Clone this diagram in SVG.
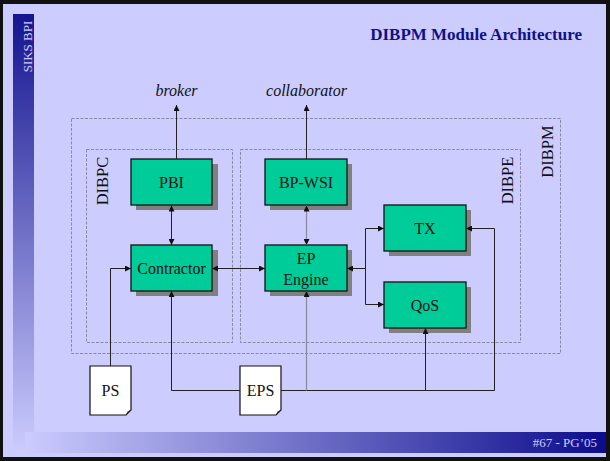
<svg xmlns="http://www.w3.org/2000/svg" width="610" height="461" viewBox="0 0 610 461">
<defs>
<linearGradient id="gSide" x1="0" y1="14" x2="0" y2="452" gradientUnits="userSpaceOnUse">
<stop offset="0" stop-color="#14148f"/>
<stop offset="1" stop-color="#ccccff"/>
</linearGradient>
<linearGradient id="gBottom" x1="25" y1="0" x2="606" y2="0" gradientUnits="userSpaceOnUse">
<stop offset="0" stop-color="#ccccff"/>
<stop offset="1" stop-color="#0c0c8c"/>
</linearGradient>
<marker id="ah" viewBox="0 0 10 10" refX="10" refY="5" markerWidth="6" markerHeight="6" markerUnits="userSpaceOnUse" orient="auto-start-reverse">
<path d="M0,0 L10,5 L0,10 Z" fill="#111"/>
</marker>
<style>
.box{fill:#00cc99;stroke:#111;stroke-width:1.3}
.shadow{fill:#808080}
.lbl{font-family:"Liberation Serif","Times New Roman",serif;font-size:16px;fill:#111;text-anchor:middle}
.grp{fill:none;stroke:#8a8aa0;stroke-width:1;stroke-dasharray:3,1.5}
.glbl{font-family:"Liberation Serif","Times New Roman",serif;font-size:16.5px;fill:#111;text-anchor:middle}
.ln{fill:none;stroke:#222;stroke-width:1}
.lng{fill:none;stroke:#8888a0;stroke-width:1.2}
.doc{fill:#fff;stroke:#111;stroke-width:1.2}
.ext{font-family:"Liberation Serif","Times New Roman",serif;font-size:16px;font-style:italic;fill:#111;text-anchor:middle}
</style>
</defs>
<rect x="0" y="0" width="610" height="461" fill="#111"/>
<rect x="3" y="4" width="603" height="453" fill="#ccccff"/>
<rect x="13" y="14" width="21" height="438" fill="url(#gSide)"/>
<text transform="translate(32,46.5) rotate(-90)" font-family="Liberation Serif,serif" font-size="13" fill="#ccccff" text-anchor="middle">SIKS BPI</text>
<rect x="25" y="432" width="581" height="21" fill="url(#gBottom)"/>
<text x="597" y="446.5" font-family="Liberation Serif,serif" font-size="13" fill="#ccccff" text-anchor="end">#67 - PG’05</text>
<text x="582" y="40" font-family="Liberation Serif,serif" font-size="17" font-weight="bold" fill="#10108a" text-anchor="end">DIBPM Module Architecture</text>

<g id="DIBPM">
<rect class="grp" x="71.5" y="118.5" width="489" height="235"/>
<text class="glbl" transform="translate(553,151.5) rotate(-90)">DIBPM</text>
</g>
<g id="DIBPC">
<rect class="grp" x="86.5" y="149.5" width="146" height="193"/>
<text class="glbl" transform="translate(108,181) rotate(-90)">DIBPC</text>
</g>
<g id="DIBPE">
<rect class="grp" x="240.5" y="149.5" width="280" height="193"/>
<text class="glbl" transform="translate(513,180.5) rotate(-90)">DIBPE</text>
</g>

<g id="broker"><text class="ext" x="176.5" y="96">broker</text></g>
<g id="collaborator"><text class="ext" x="306.5" y="96">collaborator</text></g>

<g id="PBI">
<rect class="shadow" x="136" y="164" width="82" height="46"/>
<rect class="box" x="131" y="159" width="81" height="46"/>
<text class="lbl" x="171.5" y="188">PBI</text>
</g>
<g id="Contractor">
<rect class="shadow" x="136" y="250" width="82" height="46"/>
<rect class="box" x="131" y="245" width="81" height="46"/>
<text class="lbl" x="171.5" y="274">Contractor</text>
</g>
<g id="BP-WSI">
<rect class="shadow" x="270" y="164" width="82" height="46"/>
<rect class="box" x="265" y="159" width="82" height="46"/>
<text class="lbl" x="306" y="188">BP-WSI</text>
</g>
<g id="EPEngine">
<rect class="shadow" x="270" y="250" width="82" height="46"/>
<rect class="box" x="265" y="245" width="82" height="46"/>
<text class="lbl" x="306" y="264">EP</text>
<text class="lbl" x="306" y="285">Engine</text>
</g>
<g id="TX">
<rect class="shadow" x="389" y="210" width="82" height="46"/>
<rect class="box" x="384" y="205" width="82" height="46"/>
<text class="lbl" x="425" y="234">TX</text>
</g>
<g id="QoS">
<rect class="shadow" x="389" y="287" width="82" height="46"/>
<rect class="box" x="384" y="282" width="82" height="46"/>
<text class="lbl" x="425" y="311">QoS</text>
</g>
<g id="PS">
<path class="doc" d="M90,366 H131 V410 L126,415 H90 Z"/>
<path d="M126,415 L127.5,411.5 L131,410 Z" fill="#333"/>
<text class="lbl" x="110.5" y="396">PS</text>
</g>
<g id="EPS">
<path class="doc" d="M240,366 H281 V410 L276,415 H240 Z"/>
<path d="M276,415 L277.5,411.5 L281,410 Z" fill="#333"/>
<text class="lbl" x="260.5" y="396">EPS</text>
</g>

<g id="connectors">
<path class="ln" d="M176.5,159 V105" marker-end="url(#ah)"/>
<path class="ln" d="M306.5,159 V105" marker-end="url(#ah)"/>
<path class="ln" d="M171.5,205.5 V245" marker-start="url(#ah)" marker-end="url(#ah)"/>
<path class="lng" d="M306.5,205.5 V245" marker-start="url(#ah)" marker-end="url(#ah)"/>
<path class="ln" d="M212,268.5 H265" marker-start="url(#ah)" marker-end="url(#ah)"/>
<path class="ln" d="M347,268.5 H365.5" marker-start="url(#ah)"/>
<path class="ln" d="M384,228.5 H365.5 V304.5 H384" marker-start="url(#ah)" marker-end="url(#ah)"/>
<path class="ln" d="M110.5,366 V268.5 H131" marker-end="url(#ah)"/>
<path class="ln" d="M240,390.5 H171.5 V291" marker-end="url(#ah)"/>
<path class="ln" d="M281,390.5 H494.5 V228.5 H466" marker-end="url(#ah)"/>
<path class="lng" d="M306.5,390.5 V291" marker-end="url(#ah)"/>
<path class="ln" d="M425.5,390.5 V328" marker-end="url(#ah)"/>
</g>
</svg>
